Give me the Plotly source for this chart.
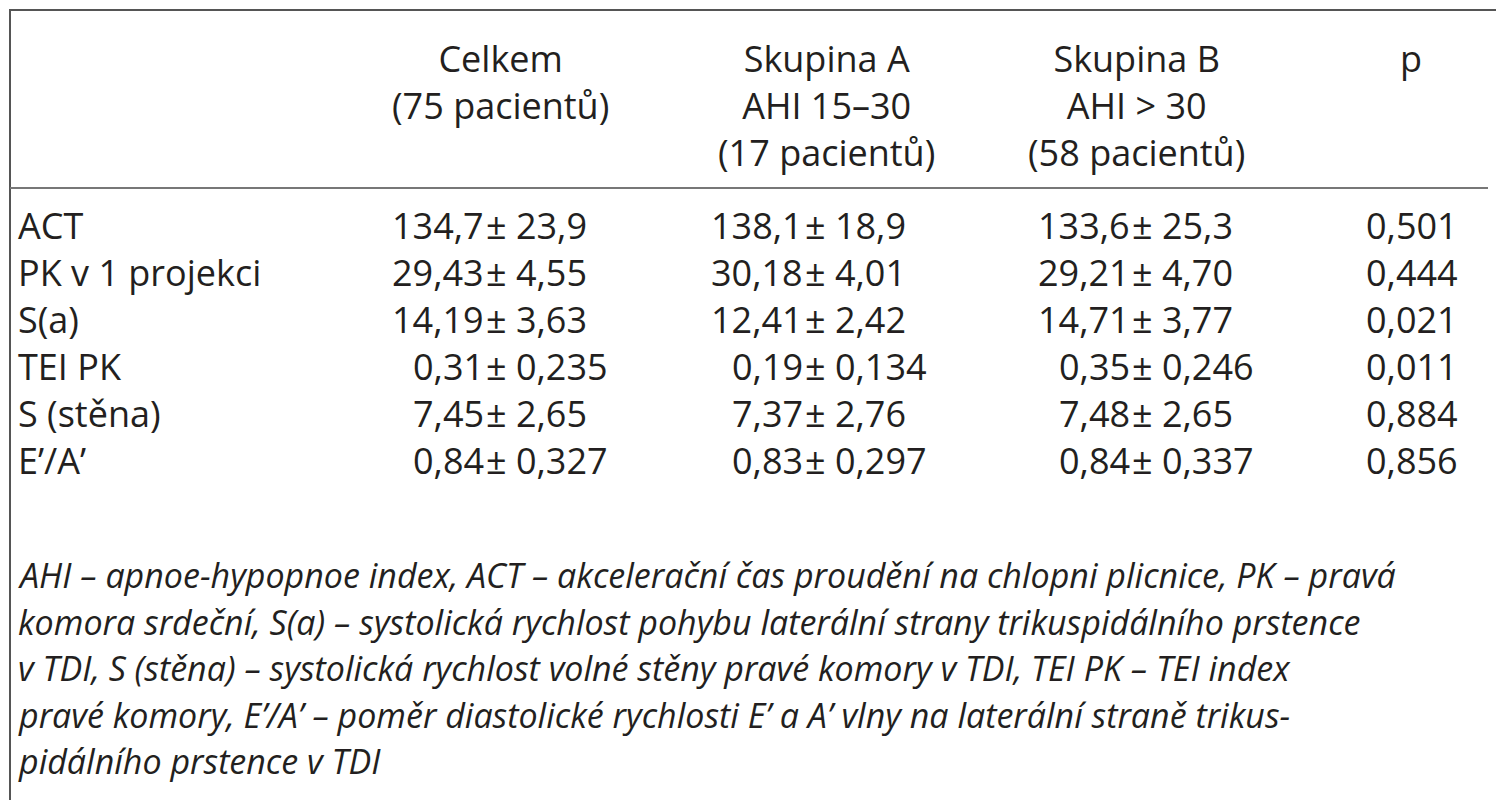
import plotly.graph_objects as go

headers = [("Celkem<br>(75 pacientů)", 492), ("Skupina A<br>AHI 15–30<br>(17 pacientů)", 818),
           ("Skupina B<br>AHI > 30<br>(58 pacientů)", 1128), ("p", 1403)]
rows = ["ACT", "PK v 1 projekci", "S(a)", "TEI PK", "S (stěna)", "E’/A’"]
celkem = ["134,7 ± 23,9", "29,43 ± 4,55", "14,19 ± 3,63", "0,31 ± 0,235", "7,45 ± 2,65", "0,84 ± 0,327"]
skupA = ["138,1 ± 18,9", "30,18 ± 4,01", "12,41 ± 2,42", "0,19 ± 0,134", "7,37 ± 2,76", "0,83 ± 0,297"]
skupB = ["133,6 ± 25,3", "29,21 ± 4,70", "14,71 ± 3,77", "0,35 ± 0,246", "7,48 ± 2,65", "0,84 ± 0,337"]
pvals = ["0,501", "0,444", "0,021", "0,011", "0,884", "0,856"]
footnote = [
    "AHI – apnoe-hypopnoe index, ACT – akcelerační čas proudění na chlopni plicnice, PK – pravá",
    "komora srdeční, S(a) – systolická rychlost pohybu laterální strany trikuspidálního prstence",
    "v TDI, S (stěna) – systolická rychlost volné stěny pravé komory v TDI, TEI PK – TEI index",
    "pravé komory, E’/A’ – poměr diastolické rychlosti E’ a A’ vlny na laterální straně trikus-",
    "pidálního prstence v TDI",
]

F = "Open Sans"
C = "#231f20"
S = 36
fig = go.Figure()
ann = []
for txt, x in headers:
    ann.append(dict(x=x, y=24, text=txt, xanchor="center", yanchor="top", showarrow=False,
                    font=dict(family=F, size=S, color=C), align="center"))
row_y = [217, 264, 311, 358, 405, 452]
for i, lab in enumerate(rows):
    y = row_y[i]
    ann.append(dict(x=8, y=y, text=lab, xanchor="left", yanchor="middle", showarrow=False,
                    font=dict(family=F, size=S, color=C)))
    for vals, xs in ((celkem, 478), (skupA, 797), (skupB, 1124)):
        a, b = vals[i].split(" ± ")
        ann.append(dict(x=xs, y=y, text=a, xanchor="right", yanchor="middle", showarrow=False,
                        font=dict(family=F, size=S, color=C)))
        ann.append(dict(x=xs - 2, y=y, text="± " + b, xanchor="left", yanchor="middle", showarrow=False,
                        font=dict(family=F, size=S, color=C)))
    ann.append(dict(x=1452, y=y, text=pvals[i], xanchor="right", yanchor="middle", showarrow=False,
                    font=dict(family=F, size=S, color=C)))
for j, line in enumerate(footnote):
    ann.append(dict(x=8, y=567 + j * 46.5, text="<i>" + line + "</i>", xanchor="left", yanchor="middle",
                    showarrow=False, font=dict(family=F, size=34, color=C)))

fig.update_layout(
    width=1504, height=800, margin=dict(l=0, r=0, t=0, b=0),
    paper_bgcolor="white", plot_bgcolor="white", annotations=ann,
    xaxis=dict(range=[0, 1504], visible=False, fixedrange=True),
    yaxis=dict(range=[800, 0], visible=False, fixedrange=True),
    shapes=[
        dict(type="rect", x0=2, y0=2, x1=1498, y1=796, line=dict(color="#555", width=2)),
        dict(type="line", x0=2, y0=180, x1=1480, y1=180, line=dict(color="#777", width=2)),
    ],
    showlegend=False,
)
fig.write_html("out.html")
